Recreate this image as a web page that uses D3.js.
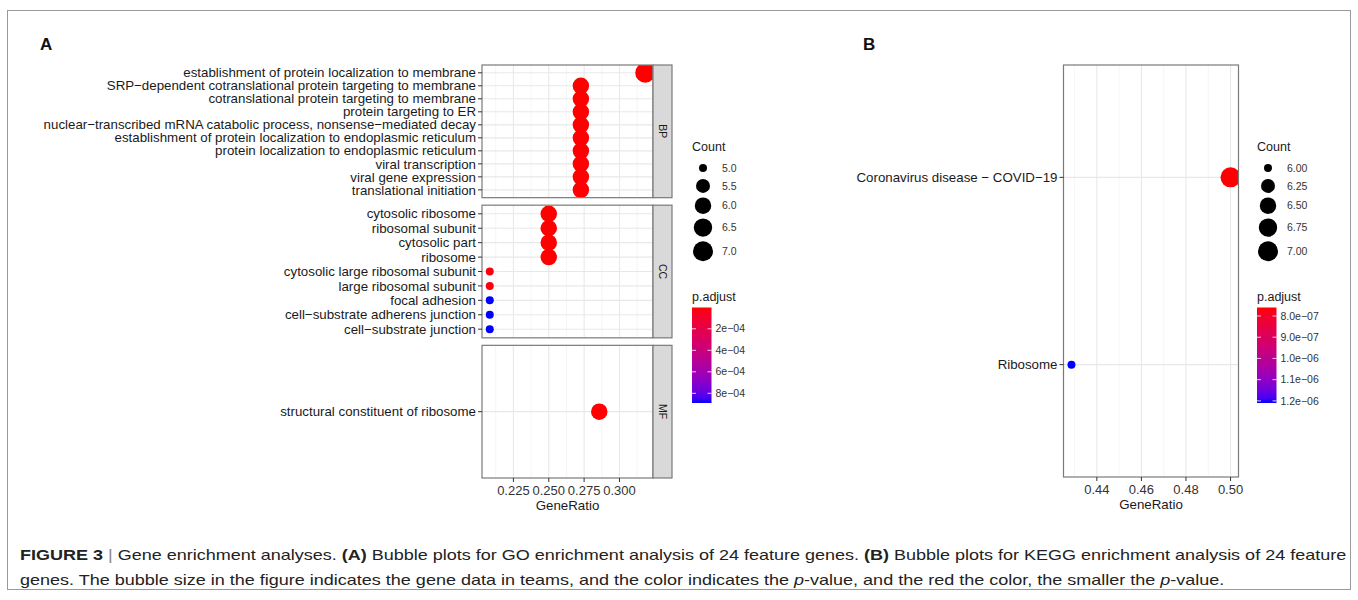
<!DOCTYPE html>
<html>
<head>
<meta charset="utf-8">
<script src="https://cdn.jsdelivr.net/npm/d3@7"></script>
<style>
  body { margin: 0; background: #fff; }
  svg { display: block; }
</style>
</head>
<body>
<svg id="fig"></svg>
<script>
  // GO enrichment, panel A (one entry per term, top to bottom)
  const goOntology = ["BP", "BP", "BP", "BP", "BP", "BP", "BP", "BP", "BP", "BP",
                      "CC", "CC", "CC", "CC", "CC", "CC", "CC", "CC", "CC", "MF"];
  const goTerms = [
    "establishment of protein localization to membrane",
    "SRP−dependent cotranslational protein targeting to membrane",
    "cotranslational protein targeting to membrane",
    "protein targeting to ER",
    "nuclear−transcribed mRNA catabolic process, nonsense−mediated decay",
    "establishment of protein localization to endoplasmic reticulum",
    "protein localization to endoplasmic reticulum",
    "viral transcription",
    "viral gene expression",
    "translational initiation",
    "cytosolic ribosome",
    "ribosomal subunit",
    "cytosolic part",
    "ribosome",
    "cytosolic large ribosomal subunit",
    "large ribosomal subunit",
    "focal adhesion",
    "cell−substrate adherens junction",
    "cell−substrate junction",
    "structural constituent of ribosome"
  ];
  const goRatio = [0.3182, 0.2727, 0.2727, 0.2727, 0.2727, 0.2727, 0.2727, 0.2727, 0.2727, 0.2727,
                   0.25, 0.25, 0.25, 0.25, 0.2083, 0.2083, 0.2083, 0.2083, 0.2083, 0.2857];
  const goCount = [7, 6, 6, 6, 6, 6, 6, 6, 6, 6,
                   6, 6, 6, 6, 5, 5, 5, 5, 5, 6];
  const goPadj = [2e-6, 4e-6, 4e-6, 4e-6, 5e-6, 5e-6, 5e-6, 6e-6, 6e-6, 7e-6,
                  3e-6, 3e-6, 3e-6, 3e-6, 2.5e-5, 2.5e-5, 8.9e-4, 8.9e-4, 8.9e-4, 6e-6];
  const goFacets = ["BP", "CC", "MF"];
  const goRatioTicks = [0.225, 0.25, 0.275, 0.3];
  const goRatioLabels = ["0.225", "0.250", "0.275", "0.300"];
  const goCountBreaks = [5, 5.5, 6, 6.5, 7];
  const goCountLabels = ["5.0", "5.5", "6.0", "6.5", "7.0"];
  const goPadjTicks = [2e-4, 4e-4, 6e-4, 8e-4];
  const goPadjLabels = ["2e−04", "4e−04", "6e−04", "8e−04"];

  // KEGG enrichment, panel B
  const keggTerms = ["Coronavirus disease − COVID−19", "Ribosome"];
  const keggRatio = [0.5, 0.4286];
  const keggCount = [7, 6];
  const keggPadj = [7.6e-7, 1.21e-6];
  const keggRatioTicks = [0.44, 0.46, 0.48, 0.5];
  const keggRatioLabels = ["0.44", "0.46", "0.48", "0.50"];
  const keggCountBreaks = [6, 6.25, 6.5, 6.75, 7];
  const keggCountLabels = ["6.00", "6.25", "6.50", "6.75", "7.00"];
  const keggPadjTicks = [8e-7, 9e-7, 1e-6, 1.1e-6, 1.2e-6];
  const keggPadjLabels = ["8.0e−07", "9.0e−07", "1.0e−06", "1.1e−06", "1.2e−06"];

  const width = 1358, height = 600;
  const font = "'Liberation Sans', Arial, Helvetica, sans-serif";
  const textCol = "#1a1a1a";
  const borderCol = "#7a7a7a";

  const svg = d3.select("#fig")
      .attr("width", width)
      .attr("height", height)
      .style("font-family", font);

  const defs = svg.append("defs");

  // outer frame
  svg.append("rect")
      .attr("x", 7.5).attr("y", 10.5)
      .attr("width", 1343).attr("height", 579)
      .attr("fill", "none").attr("stroke", "#9a9a9a");

  // panel letters
  svg.append("text").attr("x", 40).attr("y", 50).text("A")
      .attr("font-weight", "bold").attr("font-size", 17).attr("fill", "#111");
  svg.append("text").attr("x", 863).attr("y", 50).text("B")
      .attr("font-weight", "bold").attr("font-size", 17).attr("fill", "#111");

  // ggplot-ish colour and size scales
  function colorScale(vals) {
    return d3.scaleLinear().domain(d3.extent(vals)).range(["red", "blue"]).interpolate(d3.interpolateLab);
  }
  function sizeScale(vals) {
    const [lo, hi] = d3.extent(vals);
    const s = d3.scaleSqrt().domain([0, hi - lo]).range([4, 10]);
    return c => s(Math.max(0, c - lo));
  }
  function expandX(vals, range) {
    const [lo, hi] = d3.extent(vals);
    const pad = (hi - lo) * 0.05;
    return d3.scaleLinear().domain([lo - pad, hi + pad]).range(range);
  }

  let clipId = 0;
  function drawPanel(box, x, terms, ratios, counts, padj, color, size, ticks) {
    const g = svg.append("g");
    const y = d3.scalePoint().domain(terms).range([box.y0, box.y1]).padding(0.6);

    g.append("rect")
        .attr("x", box.x0).attr("y", box.y0)
        .attr("width", box.x1 - box.x0).attr("height", box.y1 - box.y0)
        .attr("fill", "#fff");

    // minor grid (midpoints between major ticks)
    const step = ticks[1] - ticks[0];
    const minor = [ticks[0] - step / 2, ...ticks.map(t => t + step / 2)]
        .filter(v => v >= x.domain()[0] && v <= x.domain()[1]);
    g.selectAll(".minor").data(minor).join("line")
        .attr("x1", d => x(d)).attr("x2", d => x(d))
        .attr("y1", box.y0).attr("y2", box.y1)
        .attr("stroke", "#f1f1f1").attr("stroke-width", 0.7);
    g.selectAll(".major").data(ticks).join("line")
        .attr("x1", d => x(d)).attr("x2", d => x(d))
        .attr("y1", box.y0).attr("y2", box.y1)
        .attr("stroke", "#e8e8e8").attr("stroke-width", 1.1);
    g.selectAll(".hgrid").data(terms).join("line")
        .attr("x1", box.x0).attr("x2", box.x1)
        .attr("y1", d => y(d)).attr("y2", d => y(d))
        .attr("stroke", "#e8e8e8").attr("stroke-width", 1.1);

    const id = "clip" + (clipId++);
    defs.append("clipPath").attr("id", id).append("rect")
        .attr("x", box.x0).attr("y", box.y0)
        .attr("width", box.x1 - box.x0).attr("height", box.y1 - box.y0);

    g.append("g").attr("clip-path", `url(#${id})`)
      .selectAll("circle")
      .data(terms.map((t, i) => ({ t, r: ratios[i], c: counts[i], p: padj[i] })))
      .join("circle")
        .attr("cx", d => x(d.r))
        .attr("cy", d => y(d.t))
        .attr("r", d => size(d.c))
        .attr("fill", d => color(d.p));

    g.append("rect")
        .attr("x", box.x0).attr("y", box.y0)
        .attr("width", box.x1 - box.x0).attr("height", box.y1 - box.y0)
        .attr("fill", "none").attr("stroke", borderCol).attr("stroke-width", 1.2);

    // y axis
    const ya = g.append("g").selectAll("g").data(terms).join("g")
        .attr("transform", d => `translate(${box.x0},${y(d)})`);
    ya.append("line").attr("x1", -4).attr("x2", 0).attr("stroke", "#333");
    ya.append("text")
        .attr("x", -6).attr("dy", "0.35em")
        .attr("text-anchor", "end")
        .attr("font-size", 13.3).attr("fill", textCol)
        .text(d => d);
    return g;
  }

  function drawStrip(box, label) {
    const g = svg.append("g");
    g.append("rect")
        .attr("x", box.x1).attr("y", box.y0)
        .attr("width", 19).attr("height", box.y1 - box.y0)
        .attr("fill", "#d9d9d9").attr("stroke", borderCol).attr("stroke-width", 1.2);
    g.append("text")
        .attr("transform", `translate(${box.x1 + 9.5},${(box.y0 + box.y1) / 2}) rotate(90)`)
        .attr("text-anchor", "middle").attr("dy", "0.35em")
        .attr("font-size", 10.5).attr("fill", textCol)
        .text(label);
  }

  function drawXAxis(x, yPos, ticks, labels) {
    const g = svg.append("g");
    const tg = g.selectAll("g").data(ticks).join("g")
        .attr("transform", d => `translate(${x(d)},${yPos})`);
    tg.append("line").attr("y1", 0).attr("y2", 4).attr("stroke", "#333");
    tg.append("text").attr("y", 16.5).attr("text-anchor", "middle")
        .attr("font-size", 13).attr("fill", "#333")
        .text((d, i) => labels[i]);
    const [a, b] = x.range();
    g.append("text").attr("x", (a + b) / 2).attr("y", yPos + 31.5)
        .attr("text-anchor", "middle").attr("font-size", 13.3).attr("fill", textCol)
        .text("GeneRatio");
  }

  function drawLegends(lx, breaks, blabels, size, color, padTicks, padLabels) {
    const g = svg.append("g");
    g.append("text").attr("x", lx).attr("y", 151).attr("font-size", 12.5).attr("fill", textCol).text("Count");
    const cx = lx + 11;
    let yc = 168, prevK = null;
    breaks.forEach((b, i) => {
      const k = Math.max(17.3, 2 * size(b) + 4.5);
      if (prevK !== null) yc += (prevK + k) / 2;
      prevK = k;
      g.append("circle").attr("cx", cx).attr("cy", yc).attr("r", size(b)).attr("fill", "#000");
      g.append("text").attr("x", cx + 19).attr("y", yc).attr("dy", "0.35em")
          .attr("font-size", 10.5).attr("fill", "#333").text(blabels[i]);
    });

    g.append("text").attr("x", lx).attr("y", 301).attr("font-size", 12.5).attr("fill", textCol).text("p.adjust");
    const bx = lx, bw = 19.5, by0 = 307.5, by1 = 403;
    const gid = "grad" + (clipId++);
    const [d0, d1] = color.domain();
    const grad = defs.append("linearGradient").attr("id", gid)
        .attr("x1", 0).attr("x2", 0).attr("y1", 0).attr("y2", 1);
    d3.range(0, 1.0001, 0.05).forEach(t => {
      grad.append("stop").attr("offset", t).attr("stop-color", color(d0 + t * (d1 - d0)));
    });
    g.append("rect").attr("x", bx).attr("y", by0).attr("width", bw).attr("height", by1 - by0)
        .attr("fill", `url(#${gid})`);
    const py = d3.scaleLinear().domain([d0, d1]).range([by0, by1]);
    padTicks.forEach((t, i) => {
      const yy = py(t);
      g.append("line").attr("x1", bx).attr("x2", bx + 4).attr("y1", yy).attr("y2", yy)
          .attr("stroke", "#fff").attr("stroke-width", 0.8);
      g.append("line").attr("x1", bx + bw - 4).attr("x2", bx + bw).attr("y1", yy).attr("y2", yy)
          .attr("stroke", "#fff").attr("stroke-width", 0.8);
      g.append("text").attr("x", bx + bw + 4).attr("y", yy).attr("dy", "0.35em")
          .attr("font-size", 10.5).attr("fill", "#333").text(padLabels[i]);
    });
  }

  // ---- Panel A ----
  const aLeft = 482, aRight = 653, aTop = 65, aBottom = 478, gap = 7.5;
  const facetH = (aBottom - aTop - gap * (goFacets.length - 1)) / goFacets.length;
  const xA = expandX(goRatio, [aLeft, aRight]);
  const colorA = colorScale(goPadj);
  const sizeA = sizeScale(goCount);

  goFacets.forEach((f, fi) => {
    const idx = d3.range(goTerms.length).filter(i => goOntology[i] === f);
    const box = { x0: aLeft, x1: aRight, y0: aTop + fi * (facetH + gap), y1: aTop + fi * (facetH + gap) + facetH };
    drawPanel(box, xA,
      idx.map(i => goTerms[i]), idx.map(i => goRatio[i]), idx.map(i => goCount[i]), idx.map(i => goPadj[i]),
      colorA, sizeA, goRatioTicks);
    drawStrip(box, f);
  });
  drawXAxis(xA, aBottom, goRatioTicks, goRatioLabels);
  drawLegends(692, goCountBreaks, goCountLabels, sizeA, colorA, goPadjTicks, goPadjLabels);

  // ---- Panel B ----
  const bBox = { x0: 1063.5, x1: 1238.5, y0: 65, y1: 477 };
  const xB = expandX(keggRatio, [bBox.x0, bBox.x1]);
  const colorB = colorScale(keggPadj);
  const sizeB = sizeScale(keggCount);
  drawPanel(bBox, xB, keggTerms, keggRatio, keggCount, keggPadj, colorB, sizeB, keggRatioTicks);
  drawXAxis(xB, bBox.y1, keggRatioTicks, keggRatioLabels);
  drawLegends(1257, keggCountBreaks, keggCountLabels, sizeB, colorB, keggPadjTicks, keggPadjLabels);

  // ---- caption ----
  const capFont = "'Liberation Sans Narrow', 'Arial Narrow', 'Liberation Sans', Arial, sans-serif";
  const cap1 = svg.append("text").attr("x", 0).attr("y", 0)
      .attr("font-family", capFont).attr("font-size", 15).attr("fill", "#222");
  cap1.append("tspan").attr("font-weight", "bold").text("FIGURE 3");
  cap1.append("tspan").attr("fill", "#888").text(" | ");
  cap1.append("tspan").text("Gene enrichment analyses. ");
  cap1.append("tspan").attr("font-weight", "bold").text("(A)");
  cap1.append("tspan").text(" Bubble plots for GO enrichment analysis of 24 feature genes. ");
  cap1.append("tspan").attr("font-weight", "bold").text("(B)");
  cap1.append("tspan").text(" Bubble plots for KEGG enrichment analysis of 24 feature");

  const cap2 = svg.append("text").attr("x", 0).attr("y", 0)
      .attr("font-family", capFont).attr("font-size", 15).attr("fill", "#222");
  cap2.append("tspan").text("genes. The bubble size in the figure indicates the gene data in teams, and the color indicates the ");
  cap2.append("tspan").attr("font-style", "italic").text("p");
  cap2.append("tspan").text("-value, and the red the color, the smaller the ");
  cap2.append("tspan").attr("font-style", "italic").text("p");
  cap2.append("tspan").text("-value.");

  const w1 = cap1.node().getComputedTextLength();
  const sx = 1327 / w1;
  cap1.attr("transform", `translate(20,560) scale(${sx},1)`);
  cap2.attr("transform", `translate(20,585) scale(${sx},1)`);
</script>
</body>
</html>
